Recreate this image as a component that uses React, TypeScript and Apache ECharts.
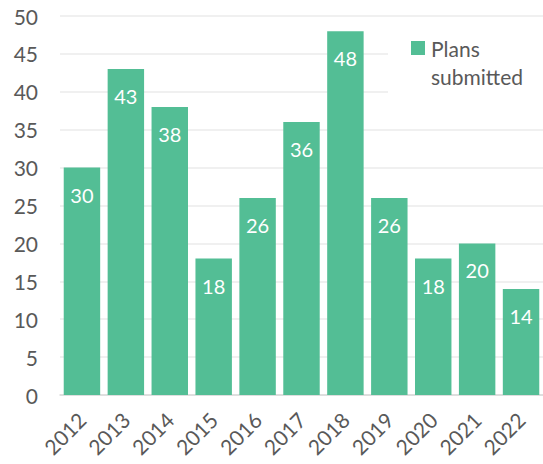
import React, { useEffect, useRef } from "react";
import * as echarts from "echarts";

const years = ["2012", "2013", "2014", "2015", "2016", "2017", "2018", "2019", "2020", "2021", "2022"];
const plansSubmitted = [30, 43, 38, 18, 26, 36, 48, 26, 18, 20, 14];
const seriesName = "Plans submitted";
const legendLines = ["Plans", "submitted"];

const FONT = "Lato, 'Open Sans', sans-serif";
const BAR = "#53BE95";
const TEXT = "#595959";

export default function App() {
  const ref = useRef<HTMLDivElement>(null);
  useEffect(() => {
    document.body.style.margin = "0";
    const chart = echarts.init(ref.current!, null, { renderer: "svg" });
    chart.setOption({
      animation: false,
      textStyle: { fontFamily: FONT },
      grid: { left: 60, right: -2, top: 16, bottom: 69, containLabel: false },
      graphic: [
        { type: "rect", left: 388, top: 22, shape: { width: 160, height: 103 }, style: { fill: "#ffffff" }, z: 3 },
        {
          type: "text",
          left: 431,
          top: 34,
          z: 6,
          style: {
            text: legendLines.join("\n"),
            fill: TEXT,
            fontSize: 21,
            lineHeight: 28,
            fontFamily: FONT,
          },
        },
      ],
      legend: {
        left: 406,
        top: 36,
        itemWidth: 14,
        itemHeight: 14,
        icon: "rect",
        formatter: () => "",
        z: 5,
      },
      xAxis: {
        type: "category",
        data: years,
        axisLine: { lineStyle: { color: "#D9D9D9", width: 1.5 } },
        axisTick: { show: false },
        axisLabel: { rotate: 45, color: TEXT, fontSize: 21, fontFamily: FONT, margin: 21 },
      },
      yAxis: {
        type: "value",
        min: 0,
        max: 50,
        interval: 5,
        axisLine: { show: false },
        axisTick: { show: false },
        splitLine: { lineStyle: { color: "#EBEBEB", width: 1.5 } },
        axisLabel: { color: TEXT, fontSize: 21, fontFamily: FONT, margin: 22 },
      },
      series: [
        {
          name: seriesName,
          type: "bar",
          data: plansSubmitted,
          barCategoryGap: "17%",
          itemStyle: { color: BAR },
          label: {
            show: true,
            position: "insideTop",
            distance: 17,
            color: "#ffffff",
            fontSize: 20,
            fontFamily: FONT,
          },
        },
      ],
    });
    return () => chart.dispose();
  }, []);
  return <div ref={ref} style={{ width: 543, height: 464 }} />;
}
